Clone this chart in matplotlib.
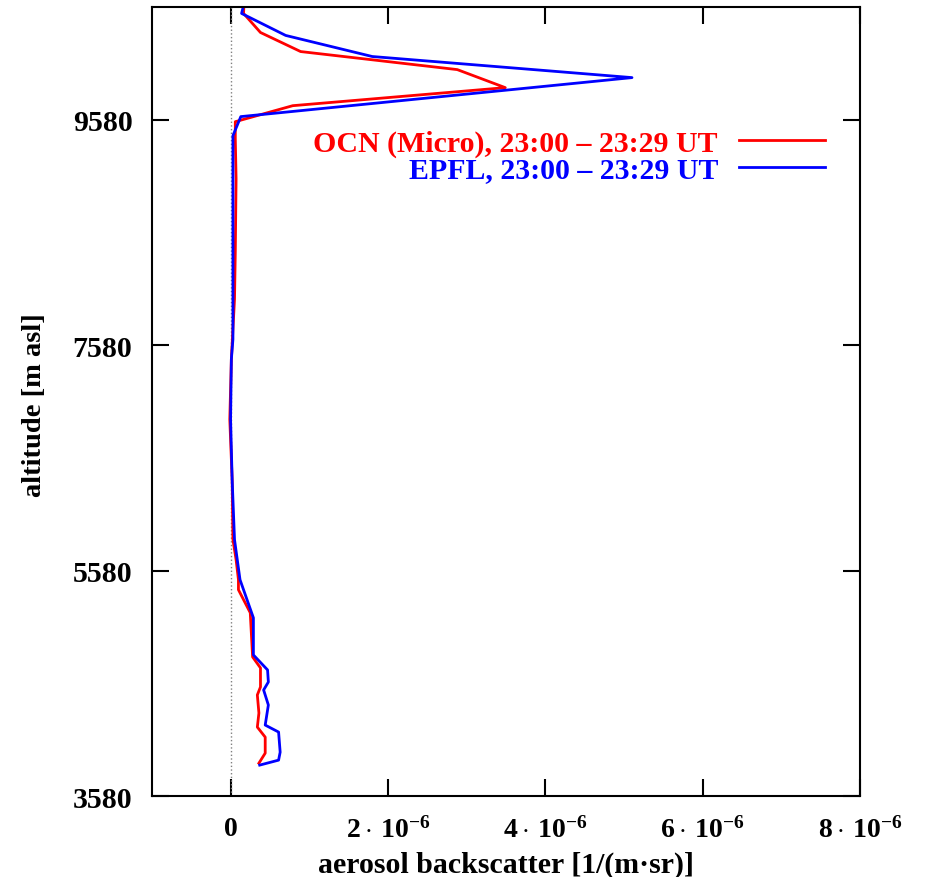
import matplotlib
matplotlib.use('Agg')
import matplotlib.pyplot as plt
from matplotlib.ticker import FuncFormatter
import numpy as np

plt.rcParams['font.family'] = 'Liberation Serif'
plt.rcParams['font.weight'] = 'bold'
plt.rcParams['axes.labelweight'] = 'bold'
plt.rcParams['font.size'] = 20
plt.rcParams['mathtext.fontset'] = 'custom'
plt.rcParams['mathtext.rm'] = 'Liberation Serif:bold'
plt.rcParams['mathtext.bf'] = 'Liberation Serif:bold'
plt.rcParams['mathtext.it'] = 'Liberation Serif:bold'

# backscatter in units of 1e-6 1/(m sr), altitude in m asl
ocn_alt = [10600, 10522, 10353, 10184, 10024, 9864, 9704, 9562, 9411, 9055, 8407, 7989,
           7455, 6922, 6389, 5856, 5678, 5500, 5411, 5207, 4815, 4718, 4549, 4478,
           4318, 4193, 4104, 3962, 3873]
ocn_bsc = [0.17, 0.165, 0.38, 0.89, 2.88, 3.49, 0.79, 0.06, 0.06, 0.07, 0.06, 0.05,
           0.01, -0.01, 0.02, 0.03, 0.07, 0.10, 0.10, 0.25, 0.28, 0.38, 0.38, 0.34,
           0.36, 0.34, 0.44, 0.44, 0.36]

epfl_alt = [10593, 10522, 10327, 10140, 9953, 9607, 9438, 9055, 8344, 7633, 7455, 6922,
            6389, 5856, 5500, 5162, 4833, 4700, 4593, 4522, 4389, 4211, 4149, 3971,
            3900, 3856]
epfl_bsc = [0.165, 0.14, 0.70, 1.80, 5.10, 0.13, 0.03, 0.03, 0.03, 0.03, 0.01, 0.0,
            0.02, 0.05, 0.12, 0.29, 0.29, 0.47, 0.48, 0.42, 0.48, 0.44, 0.61, 0.63,
            0.61, 0.37]

yticks = [3580, 5580, 7580, 9580]
xticks = [0, 2e-6, 4e-6, 6e-6, 8e-6]

fig = plt.figure(figsize=(9.26, 8.78), dpi=100)
ax = fig.add_axes([0.164, 0.092, 0.765, 0.899])

ax.axvline(0, color='gray', lw=1, ls=':')
ax.plot(np.array(ocn_bsc) * 1e-6, ocn_alt, color='red', lw=2,
        label='OCN (Micro), 23:00 – 23:29 UT')
ax.plot(np.array(epfl_bsc) * 1e-6, epfl_alt, color='blue', lw=2,
        label='EPFL, 23:00 – 23:29 UT')

ax.set_xlim(-1e-6, 8e-6)
ax.set_ylim(3580, 10580)
ax.set_xticks(xticks)
ax.set_yticks(yticks)

def fmt(v, pos):
    if abs(v) < 1e-12:
        return '0'
    return r'$%d\cdot\,10^{-6}$' % round(v * 1e6)

ax.xaxis.set_major_formatter(FuncFormatter(fmt))
ax.tick_params(direction='in', length=12, width=1.5, top=True, right=True)
ax.tick_params(axis='x', pad=14, labelsize=20)
ax.tick_params(axis='y', pad=14, labelsize=21.5)
for s in ax.spines.values():
    s.set_linewidth(1.5)

ax.set_xlabel('aerosol backscatter [1/(m·sr)]', fontsize=21.5)
ax.set_ylabel('altitude [m asl]', fontsize=20.5)
ax.xaxis.set_label_coords(0.5, -0.069)
ax.yaxis.set_label_coords(-0.148, 0.497)

leg = ax.legend(loc='upper right', bbox_to_anchor=(0.972, 0.864), frameon=False,
                markerfirst=False, labelcolor='linecolor', borderpad=0,
                handlelength=2.9, handletextpad=0.7, labelspacing=0.0,
                fontsize=21.5)

fig.savefig('out.png', dpi=100)
